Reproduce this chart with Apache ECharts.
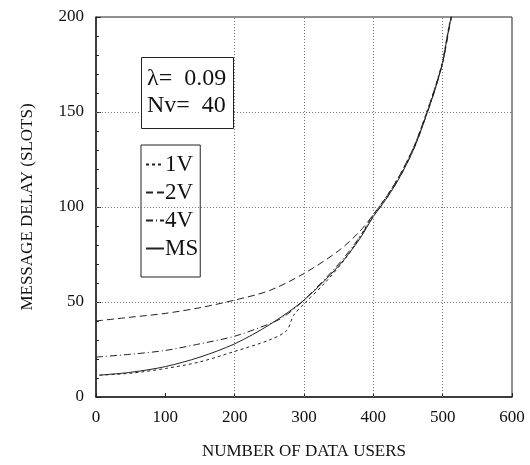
<!DOCTYPE html>
<html>
<head>
<meta charset="utf-8">
<script src="https://cdn.jsdelivr.net/npm/echarts@6/dist/echarts.min.js"></script>
<style>
  html, body { margin: 0; padding: 0; background: #fff; }
  #chart { width: 530px; height: 465px; }
</style>
</head>
<body>
<div id="chart"></div>
<script>
// data
var xTicks = [0, 100, 200, 300, 400, 500, 600];
var yTicks = [0, 50, 100, 150, 200];
var gridX = [200, 300, 400, 500];
var gridY = [50, 100, 150];

var x1V = [5, 50, 100, 150, 200, 250, 275, 285, 300, 330, 360, 380, 400, 420, 440, 460, 480, 490, 500, 505, 510, 512];
var y1V = [11.5, 12.5, 15, 18.5, 24, 30, 35, 43, 49, 60, 73, 84, 96, 106, 118, 133, 153, 164, 177, 187, 197, 200];

var x2V = [0, 50, 100, 150, 200, 250, 300, 350, 380, 400, 420, 440, 460, 480, 490, 500, 505, 510, 513];
var y2V = [40, 42, 44, 47, 51, 56, 65, 77, 87, 96, 106, 118, 133, 153, 164, 176, 185, 195, 200];

var x4V = [0, 50, 100, 150, 200, 250, 270, 300, 350, 380, 400, 420, 440, 460, 480, 490, 500, 505, 510, 513];
var y4V = [21, 22.5, 24.5, 28, 32, 38.5, 42, 51, 70, 84, 95, 105, 117, 132, 152, 163, 176, 186, 196, 201];

var xMS = [5, 50, 100, 150, 200, 250, 300, 350, 380, 400, 420, 440, 460, 480, 490, 500, 505, 510, 513];
var yMS = [11.5, 13, 16, 21, 28, 38, 51, 69, 83, 95, 105, 117, 132, 152, 163, 176, 186, 196, 201];

function pairs(xs, ys) {
  var out = [];
  for (var i = 0; i < xs.length; i++) out.push([xs[i], ys[i]]);
  return out;
}

var serif = '"Liberation Serif", "DejaVu Serif", serif';
var ink = '#222';

function curve(name, xs, ys, type) {
  return {
    name: name,
    type: 'line',
    data: pairs(xs, ys),
    smooth: 0.3,
    symbol: 'none',
    lineStyle: { color: ink, width: 1, type: type },
    itemStyle: { color: ink }
  };
}

var series = [
  curve('1V', x1V, y1V, [3, 3]),
  curve('2V', x2V, y2V, [7, 4]),
  curve('4V', x4V, y4V, [7, 3, 1, 3]),
  curve('MS', xMS, yMS, 'solid')
];
// dotted grid lines (the scan shows none at x = 100)
series.push({
  type: 'line',
  data: [],
  silent: true,
  markLine: {
    symbol: 'none',
    silent: true,
    label: { show: false },
    lineStyle: { color: '#777', width: 1, type: [1, 2] },
    data: gridX.map(function (v) { return { xAxis: v }; })
      .concat(gridY.map(function (v) { return { yAxis: v }; }))
  }
});

var myChart = echarts.init(document.getElementById('chart'));
var option = {
  animation: false,
  backgroundColor: '#fff',
  title: {
    text: 'λ=  0.09\nNv=  40',
    left: 141,
    top: 57,
    padding: [8, 8, 10, 6],
    borderColor: ink,
    borderWidth: 1,
    backgroundColor: '#fff',
    textStyle: { fontFamily: serif, fontSize: 24, fontWeight: 'normal', color: '#111', lineHeight: 27 }
  },
  legend: {
    data: ['1V', '2V', '4V', 'MS'],
    orient: 'vertical',
    left: 141,
    top: 145,
    align: 'left',
    padding: [8, 2, 17, 4],
    itemGap: 5,
    itemWidth: 18,
    itemHeight: 22,
    borderColor: ink,
    borderWidth: 1,
    backgroundColor: '#fff',
    itemStyle: { opacity: 0 },
    textStyle: { fontFamily: serif, fontSize: 23, color: '#111', padding: [0, 0, 0, -4] }
  },
  grid: {
    left: 96, right: 18, top: 17, bottom: 63,
    show: true, borderColor: ink, borderWidth: 1
  },
  xAxis: {
    type: 'value',
    min: 0, max: 600, interval: 100,
    name: 'NUMBER OF DATA USERS',
    nameLocation: 'middle',
    nameGap: 46,
    nameTextStyle: { fontFamily: serif, fontSize: 17, color: '#111' },
    axisLine: { lineStyle: { color: ink, width: 1.5 } },
    axisTick: { inside: true, length: 4, lineStyle: { color: ink } },
    splitLine: { show: false },
    axisLabel: { fontFamily: serif, fontSize: 17, color: '#111', margin: 12,
      formatter: function (v) { return xTicks.indexOf(v) >= 0 ? String(v) : ''; } }
  },
  yAxis: {
    type: 'value',
    min: 0, max: 200, interval: 50,
    name: 'MESSAGE DELAY (SLOTS)',
    nameLocation: 'middle',
    nameGap: 60,
    nameTextStyle: { fontFamily: serif, fontSize: 17, color: '#111' },
    axisLine: { show: true, lineStyle: { color: ink, width: 1.5 } },
    axisTick: { show: true, inside: true, length: 5, lineStyle: { color: ink } },
    minorTick: { show: true, splitNumber: 5, length: 3, lineStyle: { color: ink } },
    splitLine: { show: false },
    axisLabel: { fontFamily: serif, fontSize: 17, color: '#111', margin: 12,
      formatter: function (v) { return yTicks.indexOf(v) >= 0 ? String(v) : ''; } }
  },
  series: series
};
myChart.setOption(option);
</script>
</body>
</html>
